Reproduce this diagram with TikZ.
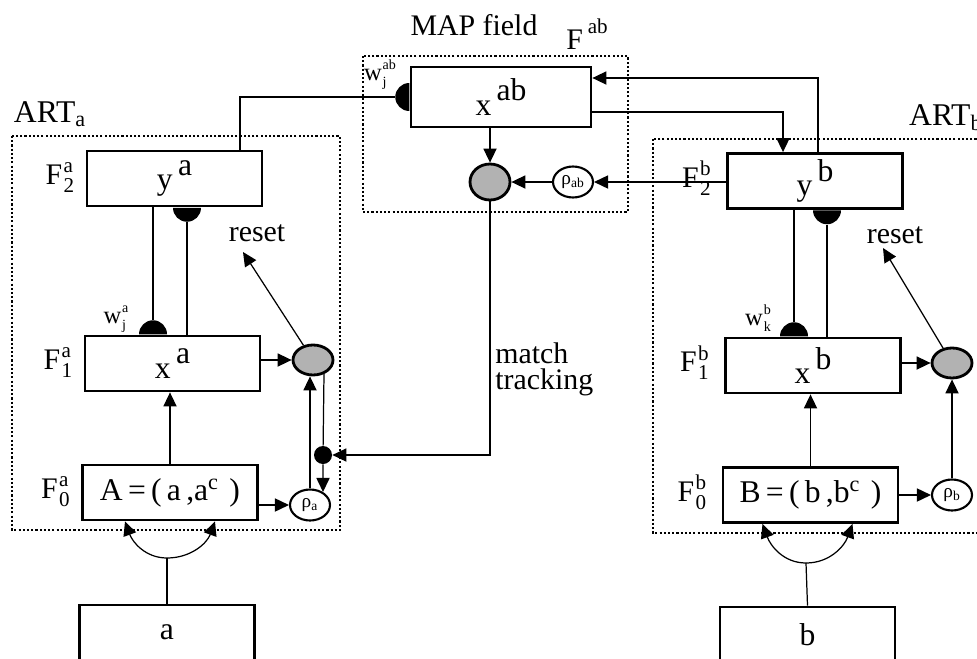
\documentclass[tikz,border=0pt]{standalone}
\usepackage{fontspec}
\setmainfont{Liberation Serif}
\usetikzlibrary{positioning,arrows.meta,shapes.geometric}
\newcommand{\hi}[1]{\raisebox{0.45em}{#1}}
\newcommand{\Flab}[2]{{\fontsize{17}{19}\selectfont F}\kern0.8pt\raisebox{-4.5pt}{\fontsize{12}{11}\selectfont\begin{tabular}[b]{@{}l@{}}#1\\#2\end{tabular}}}
\newcommand{\wlab}[2]{{\fontsize{14}{15}\selectfont w}\kern0.5pt\raisebox{-3.5pt}{\fontsize{8}{9.5}\selectfont\begin{tabular}[b]{@{}l@{}}#1\\#2\end{tabular}}}

\begin{document}
\begin{tikzpicture}[
  x=0.02cm, y=-0.02cm,
  font=\fontsize{17}{15}\selectfont,
  layer/.style={
    draw, line width=1.6pt, minimum width=3.5cm, minimum height=1.1cm,
    inner sep=0pt, font=\fontsize{18}{20}\selectfont
  },
  field/.style={draw, line width=1pt, dash pattern=on 1.2pt off 1.2pt},
  wire/.style={line width=0.7pt},
  arr/.style={wire, -{Triangle[length=8pt,width=7.5pt]}},
  twoarr/.style={wire, {Triangle[length=8pt,width=7.5pt]}-{Triangle[length=8pt,width=7.5pt]}},
  orient/.style={
    ellipse, draw, line width=1.6pt, fill=black!30,
    minimum width=0.8cm, minimum height=0.6cm, inner sep=0pt
  },
  vig/.style={
    ellipse, draw, line width=1.2pt, fill=white, minimum width=0.8cm,
    minimum height=0.62cm, inner sep=0pt, font=\fontsize{11}{12}\selectfont
  },
  bump/.style={semicircle, fill, inner sep=0pt, minimum width=0.56cm, minimum height=0.28cm, anchor=chord center},
  tag/.style={inner sep=0pt}
]
\path[use as bounding box, clip] (0,0) rectangle (977,659);

\draw[field] (363,56) rectangle (628,212);
\node (maptxt) at (474,25) {MAP field};
\node (Fab) at (587,34) {F\,\raisebox{0.55em}{\fontsize{12}{12}\selectfont ab}};
\node[layer, minimum width=3.6cm, minimum height=1.2cm] (xab) at (501,97) {x\,\hi{ab}};
\node[bump, shape border rotate=90] (wab) at (xab.west) {};
\node[tag] (wabl) at (380,75) {\wlab{ab}{j}};
\node[orient, minimum height=0.72cm] (mapC) at (490,182) {};
\node[vig] (rhoAB) at (573,182) {ρ\textsubscript{ab}};

\draw[field] (12,136) rectangle (340,530);
\node[font=\fontsize{18}{20}\selectfont] (artA) at (50,114) {ART\textsubscript{a}};
\node[layer] (F2a) at (174.5,178.5) {y\,\hi{a}};
\node[layer] (F1a) at (172.5,363.5) {x\,\hi{a}};
\node[layer] (F0a) at (170,492.5) {A\,=\,(\,a\,,a\textsuperscript{c}\,\,)};
\node[layer] (inA) at (167,632.5) {a};
\node[tag, left=0.22cm of F2a] (F2al) {\Flab{a}{2}};
\node[tag, left=0.22cm of F1a] (F1al) {\Flab{a}{1}};
\node[tag, left=0.22cm of F0a] (F0al) {\Flab{a}{0}};
\node[bump, shape border rotate=180] (bA2) at ([xshift=0.25cm]F2a.south) {};
\node[bump] (bA1) at ([xshift=-0.39cm]F1a.north) {};
\node[tag] (wjA) at (116,318) {\wlab{a}{j}};
\node[orient] (resetA) at (313,360) {};
\node[vig] (rhoA) at (310,505) {ρ\textsubscript{a}};
\node[circle, fill, inner sep=0pt, minimum size=0.36cm] (dotA) at (323,455) {};
\node (resetLa) at (257,233) {reset};
\coordinate (resetTipA) at (243,252);
\coordinate (forkA) at (167,558);

\draw[field] (653,139) rectangle (990,533);
\node[font=\fontsize{18}{20}\selectfont, anchor=west] (artB) at (903,118) {ART\textsubscript{b}};
\node[layer] (F2b) at (815,181) {y\,\hi{b}};
\node[layer] (F1b) at (813,365.5) {x\,\hi{b}};
\node[layer] (F0b) at (810.5,495) {B\,=\,(\,b\,,b\textsuperscript{c}\,\,)};
\node[layer] (inB) at (807.5,634.5) {b};
\node[tag, left=0.3cm of F2b] (F2bl) {\Flab{b}{2}};
\node[tag, left=0.3cm of F1b] (F1bl) {\Flab{b}{1}};
\node[tag, left=0.3cm of F0b] (F0bl) {\Flab{b}{0}};
\node[bump, shape border rotate=180] (bB2) at ([xshift=0.24cm]F2b.south) {};
\node[bump] (bB1) at ([xshift=-0.38cm]F1b.north) {};
\node[tag] (wkB) at (758,320) {\wlab{b}{k}};
\node[orient] (resetB) at (952,363) {};
\node[vig] (rhoB) at (952,495) {ρ\textsubscript{b}};
\node (resetLb) at (895,235) {reset};
\coordinate (resetTipB) at (883,248);
\coordinate (forkB) at (806,563);

\node[align=left, anchor=north west, inner sep=0pt] (mtl) at (495,342) {match\\tracking};

\draw[wire] ([xshift=1.31cm]F2a.north) |- (wab.apex);
\draw[wire] (bA1.apex |- F2a.south) -- (bA1.apex);
\draw[wire] (bA2.apex) -- (bA2.apex |- F1a.north);
\draw[arr] (F0a.north) -- (F0a.north |- F1a.south);
\draw[arr] (F1a.east |- resetA) -- (resetA);
\draw[arr] (F0a.east |- rhoA) -- (rhoA);
\draw[arr] (rhoA.north) -- (rhoA.north |- resetA.south);
\draw[wire] (resetA.-52) -- (dotA);
\draw[arr] (dotA) -- (rhoA.45);
\draw[arr] (resetA) -- (resetTipA);
\draw[arr] (mapC) |- (dotA);
\draw[wire] (inA.north) -- (forkA);
\draw[twoarr] ([xshift=-0.9cm]F0a.south) to[out=-70, in=180] (forkA) to[out=0, in=-110] ([xshift=0.9cm]F0a.south);

\draw[arr] (mapC |- xab.south) -- (mapC);
\draw[arr] (rhoAB) -- (mapC);
\draw[arr] (F2b.west |- rhoAB) -- (rhoAB);
\draw[arr] ([xshift=0.06cm]F2b.north) |- ([yshift=0.38cm]xab.east);
\draw[arr] ([yshift=-0.3cm]xab.east) -| ([xshift=-0.64cm]F2b.north);

\draw[wire] (bB1.apex |- F2b.south) -- (bB1.apex);
\draw[wire] (bB2.apex) -- (bB2.apex |- F1b.north);
\draw[arr] (F0b.north) -- (F0b.north |- F1b.south);
\draw[arr] (F1b.east |- resetB) -- (resetB);
\draw[arr] (F0b.east |- rhoB) -- (rhoB);
\draw[arr] (rhoB) -- (resetB);
\draw[arr] (resetB) -- (resetTipB);
\draw[wire] (inB.north) -- (forkB);
\draw[twoarr] ([xshift=-0.96cm]F0b.south) to[out=-70, in=180] (forkB) to[out=0, in=-110] ([xshift=0.84cm]F0b.south);
\end{tikzpicture}
\end{document}
